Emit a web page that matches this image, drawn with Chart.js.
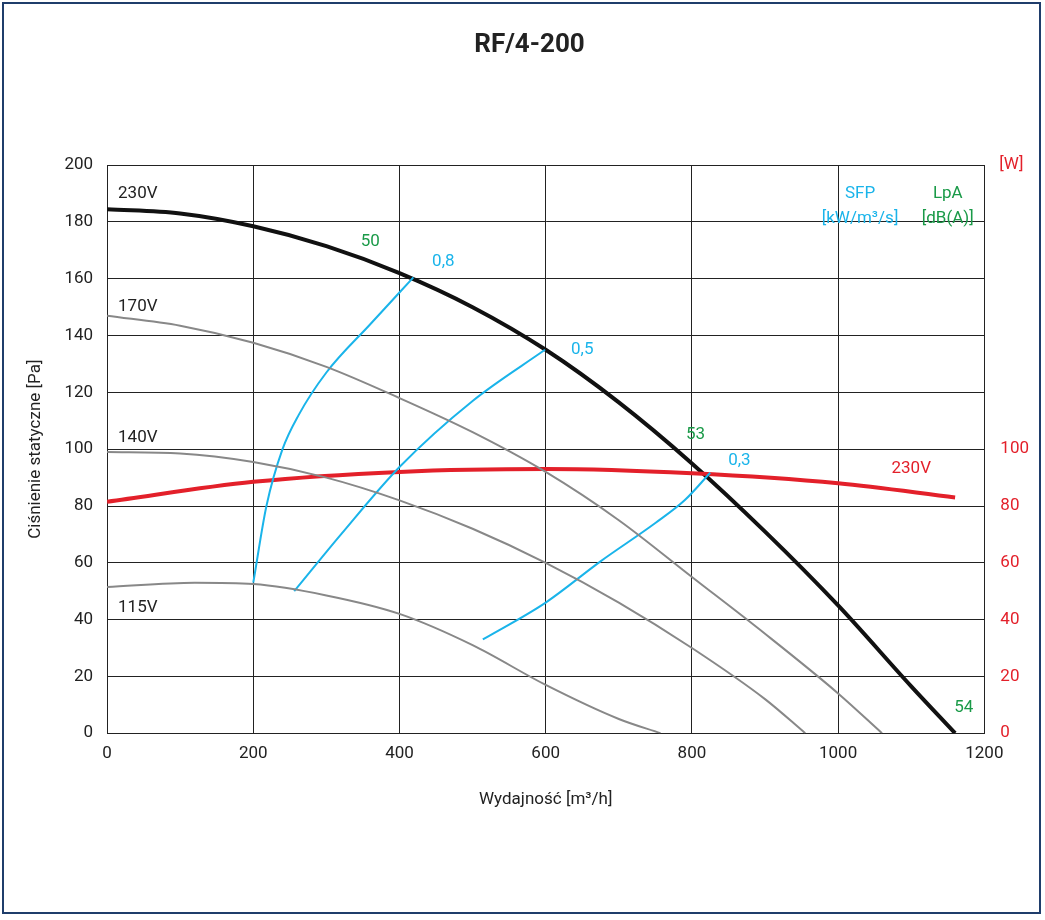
<!DOCTYPE html>
<html><head><meta charset="utf-8">
<script src="https://cdn.jsdelivr.net/npm/chart.js@4"></script>
<style>
body{margin:0;background:#fff}
#box{position:absolute;left:2px;top:2px;width:1039px;height:912px;border:2px solid #1f3d6b;box-sizing:border-box}
canvas{position:absolute;left:0;top:0}
</style></head><body>
<div id="box"></div>
<canvas id="c" width="1045" height="920"></canvas>
<script>
const xTicks = [0, 200, 400, 600, 800, 1000, 1200];
const c230 = [[0,184.5],[100,183],[200,178.5],[300,171.5],[400,162],[500,150],[600,135],[700,116.5],[800,95],[900,71],[1000,45],[1100,16.5],[1160,0]];
const c170 = [[0,147],[100,143.5],[200,137.5],[300,129],[400,118],[500,106],[600,92],[700,75],[800,55],[900,35],[1000,14],[1060,0]];
const c140 = [[0,99],[100,98.5],[200,95.5],[300,90],[400,82],[500,72],[600,60],[700,46],[800,30],[900,12],[955,0]];
const c115 = [[0,51.5],[120,53],[200,52.5],[300,48.5],[400,42],[500,31],[600,17],[700,5],[757,0]];
const power230 = [[0,81.5],[200,88.5],[400,92],[600,93],[800,91.5],[1000,88],[1160,83]];
const sfp08 = [[200,53],[218,80],[240,100],[262,112],[300,127],[360,144],[419,160.5]];
const sfp05 = [[256,50],[320,70],[401,94],[500,117],[599,135]];
const sfp03 = [[514,33],[600,46],[675,60.5],[750,74],[790,82],[825,91.7]];
const labels = [
  {x:15,y:190,t:'230V',c:'#222',a:'left'},{x:15,y:150,t:'170V',c:'#222',a:'left'},
  {x:15,y:104,t:'140V',c:'#222',a:'left'},{x:15,y:44,t:'115V',c:'#222',a:'left'},
  {x:360,y:173,t:'50',c:'#1a9a48'},{x:805,y:105,t:'53',c:'#1a9a48'},{x:1172,y:9,t:'54',c:'#1a9a48'},
  {x:460,y:166,t:'0,8',c:'#1ab4ea'},{x:650,y:135,t:'0,5',c:'#1ab4ea'},{x:865,y:96,t:'0,3',c:'#1ab4ea'},
  {x:1100,y:93,t:'230V',c:'#e3202a'},
  {x:1030,y:190,t:'SFP',c:'#1ab4ea'},{x:1030,y:181,t:'[kW/m³/s]',c:'#1ab4ea'},
  {x:1150,y:190,t:'LpA',c:'#1a9a48'},{x:1150,y:181,t:'[dB(A)]',c:'#1a9a48'}
];
const pts = a => a.map(p => ({x:p[0], y:p[1]}));
const ln = (d, col, w, ax) => ({data:pts(d), borderColor:col, borderWidth:w, pointRadius:0, tension:0.4, cubicInterpolationMode:'monotone', fill:false, yAxisID:ax||'y'});
const F = 'Roboto, "DejaVu Sans", sans-serif';
const textPlugin = {id:'txt', afterDatasetsDraw(ch){
  const g = ch.ctx, xs = ch.scales.x, ys = ch.scales.y;
  g.save(); g.font = '17px ' + F; g.textBaseline = 'middle';
  labels.forEach(l => { g.fillStyle = l.c; g.textAlign = l.a || 'center'; g.fillText(l.t, xs.getPixelForValue(l.x), ys.getPixelForValue(l.y)); });
  g.fillStyle = '#e3202a'; g.textAlign = 'center'; g.fillText('[W]', xs.right + 27, ys.getPixelForValue(200));
  g.restore();
}};
new Chart(document.getElementById('c'), {
  type:'line',
  data:{datasets:[
    ln(c170,'#888',2), ln(c140,'#888',2), ln(c115,'#888',2),
    ln(sfp08,'#1ab4ea',2), ln(sfp05,'#1ab4ea',2), ln(sfp03,'#1ab4ea',2),
    ln(power230,'#e3202a',4,'y2'), ln(c230,'#111',4)
  ]},
  options:{responsive:false, animation:false,
    layout:{padding:{left:22,right:8,top:20,bottom:106}},
    plugins:{legend:{display:false}, tooltip:{enabled:false},
      title:{display:true, text:'RF/4-200', color:'#222', font:{family:F,size:26,weight:'bold'}, padding:{top:10,bottom:104}}},
    scales:{
      x:{type:'linear', min:0, max:1200, afterBuildTicks:s=>{s.ticks=xTicks.map(v=>({value:v}));},
        grid:{color:'#222', drawTicks:false}, border:{color:'#222'},
        ticks:{color:'#222', font:{family:F,size:17}, padding:10, callback:v=>String(v)},
        title:{display:true, text:'Wydajność [m³/h]', color:'#222', font:{family:F,size:17}, padding:{top:16}}},
      y:{min:0, max:200, grid:{color:'#222', drawTicks:false}, border:{color:'#222'},
        ticks:{stepSize:20, color:'#222', font:{family:F,size:17}, padding:14},
        title:{display:true, text:'Ciśnienie statyczne [Pa]', color:'#222', font:{family:F,size:17}}},
      y2:{position:'right', min:0, max:200, grid:{display:false}, border:{color:'#222'},
        ticks:{stepSize:20, color:'#e3202a', font:{family:F,size:17}, padding:8, callback:v=> v<=100 ? v : ''}}
    }
  },
  plugins:[textPlugin]
});
</script></body></html>
